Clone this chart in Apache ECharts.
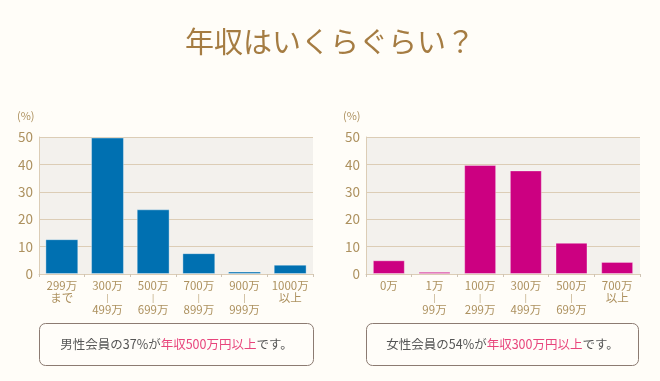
<!DOCTYPE html>
<html><head><meta charset="utf-8">
<script src="https://cdn.jsdelivr.net/npm/echarts@6/dist/echarts.min.js"></script>
<style>html,body{margin:0;padding:0;background:#fffdf8;}#c{width:660px;height:381px;}</style>
</head><body><div id="c"></div>
<script>
var maleCategories = ['299万\nまで', '300万\n|\n499万', '500万\n|\n699万', '700万\n|\n899万', '900万\n|\n999万', '1000万\n以上'];
var maleValues = [12.7, 49.8, 23.6, 7.6, 0.9, 3.4];
var femaleCategories = ['0万', '1万\n|\n99万', '100万\n|\n299万', '300万\n|\n499万', '500万\n|\n699万', '700万\n以上'];
var femaleValues = [5.0, 0.8, 39.8, 37.8, 11.4, 4.4];
var yTicks = [0, 10, 20, 30, 40, 50];

var tan = '#ad915f';
var gridLine = '#dccdb6';
var font = '"Noto Sans CJK JP", "Noto Sans", sans-serif';

function xAx(idx, cats) {
  return {
    type: 'category', gridIndex: idx, data: cats,
    axisLine: { show: true, lineStyle: { color: gridLine, width: 1 } },
    axisTick: { show: true, length: 3, lineStyle: { color: '#cfc4b4' } },
    axisLabel: { color: tan, fontSize: 11.5, fontFamily: font, lineHeight: 12, margin: 6, interval: 0,
      formatter: function (v) {
        return v.split('\n').map(function (s) { return s === '|' ? '{s|' + s + '}' : s; }).join('\n');
      },
      rich: { s: { fontSize: 8, lineHeight: 12, color: tan, fontFamily: font } } }
  };
}
function yAx(idx) {
  return {
    type: 'value', gridIndex: idx, min: 0, max: 50, interval: 10,
    axisLine: { show: true, lineStyle: { color: gridLine } },
    axisTick: { show: false },
    splitLine: { lineStyle: { color: gridLine } },
    axisLabel: { color: tan, fontSize: 13.5, fontFamily: font, margin: 6,
      formatter: function (v) { return yTicks.indexOf(v) >= 0 ? String(v) : ''; } }
  };
}
function noteBox(x, w, before, hi, after) {
  return {
    type: 'group', left: x, top: 323,
    children: [
      { type: 'rect', shape: { x: 0, y: 0, width: w, height: 42, r: 6 },
        style: { fill: '#fffdf9', stroke: '#8c7b72', lineWidth: 1 } },
      { type: 'text', x: w / 2, y: 21,
        style: { text: '{a|' + before + '}{b|' + hi + '}{a|' + after + '}', align: 'center', verticalAlign: 'middle',
          rich: { a: { fontSize: 12.5, fill: '#555555', fontFamily: font },
                  b: { fontSize: 12.5, fill: '#e8457c', fontFamily: font } } } }
    ]
  };
}

var chart = echarts.init(document.getElementById('c'));
chart.setOption({
  backgroundColor: '#fffdf8',
  animation: false,
  title: { text: '年収はいくらぐらい？', left: 'center', top: 22,
    textStyle: { color: '#a57c42', fontSize: 29, fontWeight: 'normal', fontFamily: font } },
  grid: [
    { left: 39, top: 137, width: 274, height: 137, show: true, backgroundColor: '#f3f1ed', borderWidth: 0 },
    { left: 366, top: 137, width: 274, height: 137, show: true, backgroundColor: '#f3f1ed', borderWidth: 0 }
  ],
  xAxis: [xAx(0, maleCategories), xAx(1, femaleCategories)],
  yAxis: [yAx(0), yAx(1)],
  series: [
    { type: 'bar', xAxisIndex: 0, yAxisIndex: 0, data: maleValues, barWidth: '72%',
      itemStyle: { color: '#0070b1', borderColor: 'rgba(255,255,255,0.35)', borderWidth: 1 } },
    { type: 'bar', xAxisIndex: 1, yAxisIndex: 1, data: femaleValues, barWidth: '70%',
      itemStyle: { color: '#cc0081', borderColor: 'rgba(255,255,255,0.35)', borderWidth: 1 } }
  ],
  graphic: [
    { type: 'text', left: 17, top: 110, style: { text: '(%)', fontSize: 11, fill: tan, fontFamily: font } },
    { type: 'text', left: 343, top: 110, style: { text: '(%)', fontSize: 11, fill: tan, fontFamily: font } },
    noteBox(39, 274, '男性会員の37%が', '年収500万円以上', 'です。'),
    noteBox(366, 272, '女性会員の54%が', '年収300万円以上', 'です。')
  ]
});
</script></body></html>
